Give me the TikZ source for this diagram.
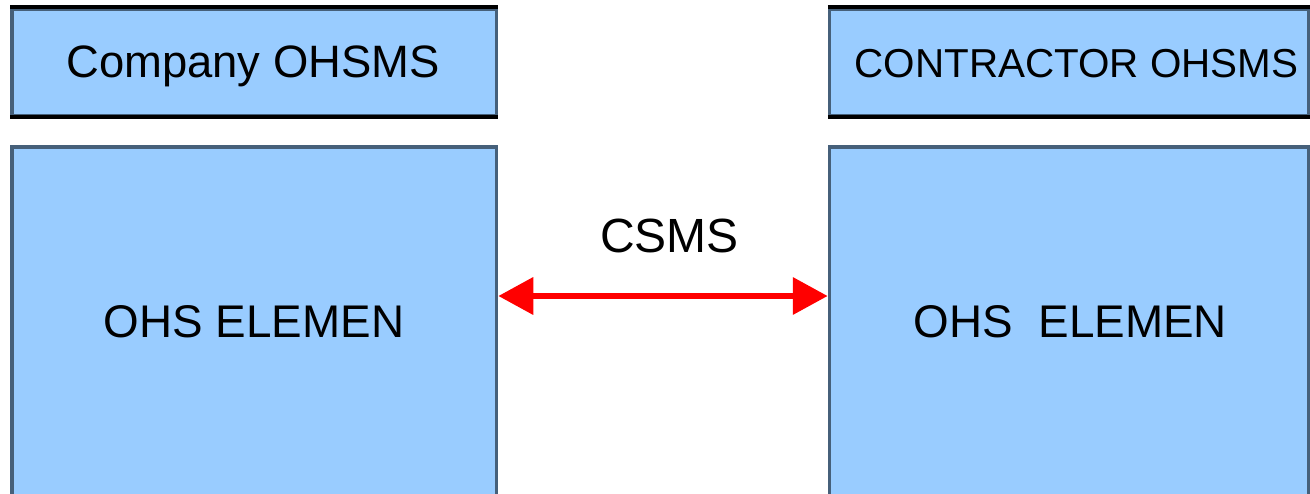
\documentclass[tikz,border=0pt]{standalone}
\usepackage{fontspec}
\setmainfont{Liberation Sans}
\usetikzlibrary{arrows.meta}
\definecolor{boxfill}{RGB}{153,204,255}
\definecolor{slate}{RGB}{70,96,122}
\definecolor{arrred}{RGB}{255,0,0}
\tikzset{
  box/.style={draw=slate, fill=boxfill, line width=1.75pt, inner sep=0pt, rectangle},
  edgeline/.style={draw=black, line width=1.9pt},
  boxtext/.style={inner sep=0pt, anchor=base},
  arr/.style={draw=arrred, line width=3.4pt, {Triangle[length=17.5pt,width=18pt]}-{Triangle[length=17.5pt,width=18pt]}}
}
\begin{document}
\begin{tikzpicture}[x=0.5pt,y=-0.5pt]
\useasboundingbox (0,0) rectangle (1310,493);
\clip (0,0) rectangle (1310,493);
% boxes
\node[box, minimum width=242.25pt, minimum height=53.25pt] (tl) at (254.25,62.25) {};
\node[box, minimum width=239.5pt, minimum height=53.25pt] (tr) at (1069,62.25) {};
\node[box, minimum width=242.25pt, minimum height=186.5pt] (bl) at (254.25,333.5) {};
\node[box, minimum width=239.5pt, minimum height=186.5pt] (br) at (1069,333.5) {};
\draw[edgeline] (tl.north west) -- (tl.north east);
\draw[edgeline] (tl.south west) -- (tl.south east);
\draw[edgeline] (tr.north west) -- (tr.north east);
\draw[edgeline] (tr.south west) -- (tr.south east);
% texts
\node[boxtext, font=\fontsize{22.7pt}{26pt}\selectfont] (tlt) at (253,77) {Company OHSMS};
\node[boxtext, font=\fontsize{20.2pt}{23pt}\selectfont] (trt) at (1076.5,77) {CONTRACTOR OHSMS};
\node[boxtext, font=\fontsize{22.9pt}{27pt}\selectfont] (blt) at (254,337) {OHS ELEMEN};
\node[boxtext, font=\fontsize{22.9pt}{27pt}\selectfont] (brt) at (1070.5,337) {OHS\ \ ELEMEN};
\node[boxtext, font=\fontsize{24pt}{27pt}\selectfont] (csms) at (669.5,252) {CSMS};
% arrow
\coordinate (ay) at (0,296);
\draw[arr] (bl.east |- ay) -- (br.west |- ay);
\end{tikzpicture}
\end{document}
